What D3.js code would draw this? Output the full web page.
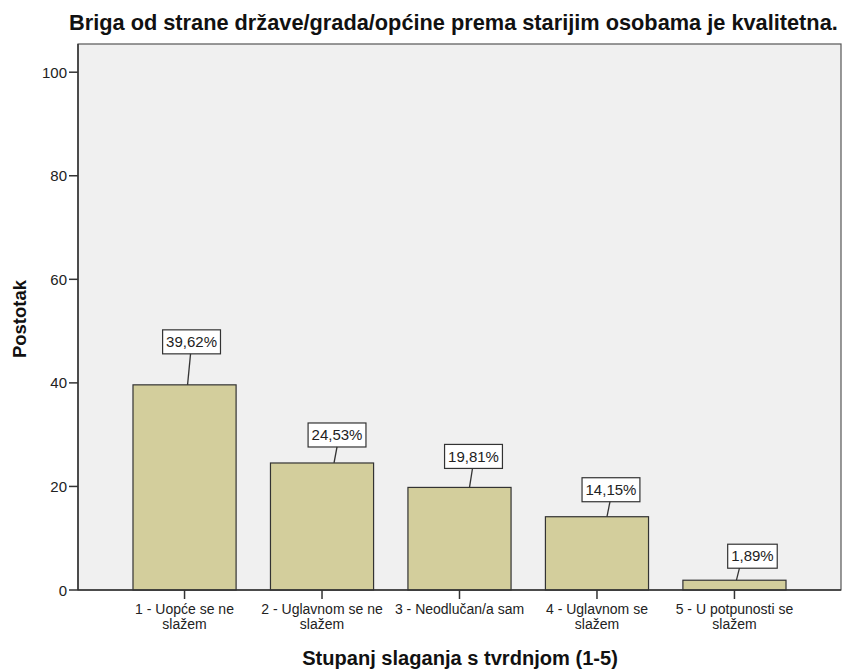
<!DOCTYPE html>
<html lang="hr">
<head>
  <meta charset="UTF-8">
  <title>Briga od strane države</title>
  <script src="https://cdnjs.cloudflare.com/ajax/libs/d3/7.8.5/d3.min.js"></script>
  <style>
    * { margin: 0; padding: 0; }
    html, body { background-color: #fff; }
    svg { display: block; font-family: Arial, "Liberation Sans", sans-serif; }
  </style>
</head>
<body>
<div id="chart"></div>
<script>
  // podaci
  const categories = [
    ['1 - Uopće se ne', 'slažem'],
    ['2 - Uglavnom se ne', 'slažem'],
    ['3 - Neodlučan/a sam'],
    ['4 - Uglavnom se', 'slažem'],
    ['5 - U potpunosti se', 'slažem']
  ]
  const percents = [39.62, 24.53, 19.81, 14.15, 1.89]
  const yTicks = [0, 20, 40, 60, 80, 100]
  const labelTexts = ['39,62%', '24,53%', '19,81%', '14,15%', '1,89%']

  // pomaci oznaka (SPSS ih malo razmakne)
  const boxDx = [7, 15, 14, 14, 18]
  const lineDx = [6, 15, 13, 13, 5]
  const boxGap = [31, 16, 19, 15, 12]

  const W = 844, H = 669
  const plot = { left: 78, right: 841, top: 44, bottom: 590 }

  const svg = d3.select('#chart').append('svg')
    .attr('width', W)
    .attr('height', H)

  const x = d3.scaleBand()
    .domain(d3.range(categories.length))
    .range([plot.left, plot.right])
    .paddingInner(0.25)
    .paddingOuter(0.4)

  const y = d3.scaleLinear()
    .domain([0, 100])
    .range([plot.bottom, plot.bottom - 100 * 5.178])

  // tekst smanjen/povecan da stane u zadanu sirinu
  function fitText(sel, width) {
    const w = sel.node().getComputedTextLength()
    const fs = parseFloat(sel.style('font-size'))
    sel.style('font-size', (fs * width / w) + 'px')
  }

  // pozadina
  svg.append('rect')
    .attr('x', plot.left)
    .attr('y', plot.top)
    .attr('width', plot.right - plot.left)
    .attr('height', plot.bottom - plot.top)
    .attr('fill', '#f0f0f0')
    .attr('stroke', '#555')
    .attr('stroke-width', 1.2)

  // stupci
  svg.selectAll('.bar').data(percents).join('rect')
    .attr('class', 'bar')
    .attr('x', (d, i) => x(i))
    .attr('y', d => y(d))
    .attr('width', x.bandwidth())
    .attr('height', d => y(0) - y(d))
    .attr('fill', '#d3ce9c')
    .attr('stroke', '#333')
    .attr('stroke-width', 1.2)

  // y os
  const yAxis = svg.append('g')
  yAxis.append('line')
    .attr('x1', plot.left).attr('x2', plot.left)
    .attr('y1', plot.top).attr('y2', plot.bottom)
    .attr('stroke', '#333').attr('stroke-width', 1.5)
  yAxis.selectAll('.ytick').data(yTicks).join('line')
    .attr('class', 'ytick')
    .attr('x1', plot.left - 9).attr('x2', plot.left)
    .attr('y1', d => y(d)).attr('y2', d => y(d))
    .attr('stroke', '#333').attr('stroke-width', 1.5)
  yAxis.selectAll('.ylab').data(yTicks).join('text')
    .attr('class', 'ylab')
    .attr('x', plot.left - 11)
    .attr('y', d => y(d) + 5.5)
    .attr('text-anchor', 'end')
    .attr('fill', '#222')
    .style('font-size', '15px')
    .text(d => d)

  // x os
  const xAxis = svg.append('g')
  xAxis.append('line')
    .attr('x1', plot.left).attr('x2', plot.right)
    .attr('y1', plot.bottom).attr('y2', plot.bottom)
    .attr('stroke', '#333').attr('stroke-width', 1.5)
  xAxis.selectAll('.xtick').data(categories).join('line')
    .attr('class', 'xtick')
    .attr('x1', (d, i) => x(i) + x.bandwidth() / 2)
    .attr('x2', (d, i) => x(i) + x.bandwidth() / 2)
    .attr('y1', plot.bottom).attr('y2', plot.bottom + 9)
    .attr('stroke', '#333').attr('stroke-width', 1.5)
  categories.forEach((lines, i) => {
    const t = xAxis.append('text')
      .attr('text-anchor', 'middle')
      .attr('fill', '#222')
      .style('font-size', '14px')
    t.selectAll('tspan').data(lines).join('tspan')
      .attr('x', x(i) + x.bandwidth() / 2)
      .attr('y', (d, j) => 614 + j * 15)
      .text(d => d)
  })

  // oznake vrijednosti
  const labels = svg.selectAll('.lab').data(percents).join('g').attr('class', 'lab')
  labels.each(function(d, i) {
    const g = d3.select(this)
    const cx = x(i) + x.bandwidth() / 2
    const bottom = y(d) - boxGap[i]
    const t = g.append('text')
      .attr('x', cx + boxDx[i])
      .attr('y', bottom - 6.8)
      .attr('text-anchor', 'middle')
      .attr('fill', '#222')
      .style('font-size', '15px')
      .text(labelTexts[i])
    const w = t.node().getComputedTextLength() + 7
    g.insert('rect', 'text')
      .attr('x', cx + boxDx[i] - w / 2)
      .attr('y', bottom - 24)
      .attr('width', w)
      .attr('height', 24)
      .attr('fill', '#fff')
      .attr('stroke', '#333')
      .attr('stroke-width', 1.2)
    g.append('line')
      .attr('x1', cx + lineDx[i]).attr('y1', bottom)
      .attr('x2', cx + lineDx[i] - 3).attr('y2', y(d))
      .attr('stroke', '#333')
      .attr('stroke-width', 1.3)
  })

  // naslovi
  const title = svg.append('text')
    .attr('x', 69)
    .attr('y', 30)
    .attr('fill', '#111')
    .style('font-size', '20px')
    .style('font-weight', 'bold')
    .text('Briga od strane države/grada/općine prema starijim osobama je kvalitetna.')
  fitText(title, 769)

  const xTitle = svg.append('text')
    .attr('x', 460)
    .attr('y', 665)
    .attr('text-anchor', 'middle')
    .attr('fill', '#111')
    .style('font-size', '20px')
    .style('font-weight', 'bold')
    .text('Stupanj slaganja s tvrdnjom (1-5)')
  fitText(xTitle, 316)

  const yTitle = svg.append('text')
    .attr('transform', 'translate(26,319) rotate(-90)')
    .attr('text-anchor', 'middle')
    .attr('fill', '#111')
    .style('font-size', '20px')
    .style('font-weight', 'bold')
    .text('Postotak')
  fitText(yTitle, 78)
</script>
</body>
</html>
